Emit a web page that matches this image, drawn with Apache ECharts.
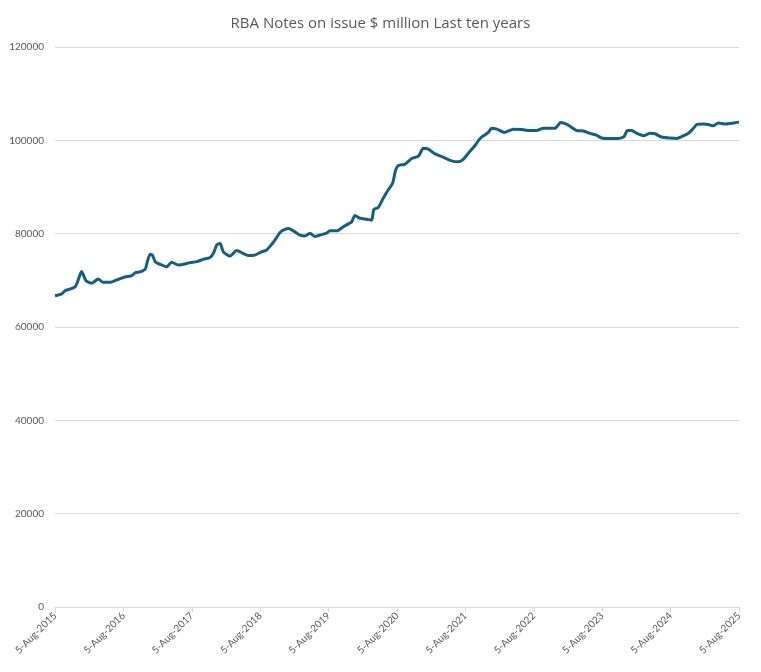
<!DOCTYPE html>
<html>
<head>
<meta charset="utf-8">
<script src="https://cdn.jsdelivr.net/npm/echarts@6/dist/echarts.min.js"></script>
<style>
html,body{margin:0;padding:0;background:#fff;}
#chart{width:761px;height:672px;}
</style>
</head>
<body>
<div id="chart"></div>
<script>
var title = 'RBA Notes on issue $ million Last ten years';
var dates = [
'2015-08-05','2015-09-10','2015-09-28','2015-10-24','2015-11-20','2015-12-02','2015-12-25',
'2016-01-18','2016-02-18','2016-03-23','2016-04-16','2016-05-25','2016-06-30','2016-08-13',
'2016-09-18','2016-10-06','2016-11-01','2016-11-29','2016-12-10','2016-12-25',
'2017-01-06','2017-01-21','2017-02-17','2017-03-23','2017-04-19','2017-05-24','2017-06-29',
'2017-07-26','2017-08-31','2017-10-05','2017-11-10','2017-11-28','2017-12-16',
'2018-01-03','2018-01-20','2018-02-25','2018-04-01','2018-05-05','2018-06-01','2018-07-07',
'2018-08-12','2018-09-08','2018-10-05','2018-11-01','2018-11-20','2018-12-15',
'2019-01-03','2019-01-29','2019-03-05','2019-04-01','2019-04-28','2019-05-24','2019-06-20',
'2019-07-26','2019-08-12','2019-09-17','2019-10-23','2019-11-19','2019-12-06','2019-12-24',
'2020-01-20','2020-02-25','2020-03-22','2020-04-03','2020-04-26','2020-05-23','2020-06-19',
'2020-07-12','2020-07-28','2020-08-12','2020-09-17','2020-10-22','2020-11-27','2020-12-23',
'2021-01-19','2021-02-24','2021-04-08','2021-05-23','2021-06-28','2021-07-21','2021-08-20',
'2021-09-25','2021-10-22','2021-11-18','2021-12-05','2021-12-23',
'2022-01-20','2022-02-28','2022-04-17','2022-06-02','2022-07-14','2022-08-20','2022-09-25',
'2022-11-27','2022-12-26',
'2023-01-29','2023-03-22','2023-04-27','2023-06-02','2023-07-06','2023-08-02','2023-09-17',
'2023-10-30','2023-11-30','2023-12-18',
'2024-01-10','2024-02-06','2024-03-12','2024-04-17','2024-05-14','2024-06-17','2024-08-01',
'2024-09-07','2024-10-03','2024-11-08','2024-12-05','2024-12-23',
'2025-01-27','2025-02-23','2025-03-20','2025-04-16','2025-05-21','2025-07-05','2025-08-05'
];
var notes = [
66700,67100,67800,68100,68600,69500,71900,
69900,69400,70300,69600,69600,70100,70700,
71000,71600,71800,72400,74000,75600,
75400,74000,73400,72900,73900,73300,73500,
73800,74000,74500,74900,75800,77600,
77900,76100,75200,76400,75800,75300,75400,
76100,76500,77700,79200,80300,80900,
81100,80600,79700,79500,80100,79400,79700,
80100,80600,80600,81500,82100,82500,83900,
83300,83100,82900,85200,85600,87600,89400,
90800,93600,94600,94900,96100,96600,98300,
98100,97100,96400,95600,95400,95800,97200,
98900,100400,101200,101700,102600,
102400,101700,102400,102300,102100,102100,102600,
102600,103800,
103400,102100,102000,101500,101100,100500,100400,
100400,100800,102100,
102100,101500,101000,101500,101400,100700,100500,
100400,100800,101500,102600,103400,
103500,103400,103100,103700,103500,103700,103900
];
var yTicks = [0,20000,40000,60000,80000,100000,120000];
var xTickDates = ['2015-08-05','2016-08-05','2017-08-05','2018-08-05','2019-08-05','2020-08-05',
'2021-08-05','2022-08-05','2023-08-05','2024-08-05','2025-08-05'];

var MON = ['Jan','Feb','Mar','Apr','May','Jun','Jul','Aug','Sep','Oct','Nov','Dec'];
var DAY = 86400000;
function ts(s){ return Date.parse(s + 'T00:00:00Z'); }
function fmtDate(v){
  var d = new Date(Math.round(v / DAY) * DAY);
  return d.getUTCDate() + '-' + MON[d.getUTCMonth()] + '-' + d.getUTCFullYear();
}
var seriesData = dates.map(function(d,i){ return [ts(d), notes[i]]; });
var xTickTs = xTickDates.map(ts);

var chart = echarts.init(document.getElementById('chart'), null, {renderer:'canvas'});
chart.setOption({
  animation:false,
  backgroundColor:'#ffffff',
  textStyle:{fontFamily:'Lato, "Open Sans", sans-serif'},
  title:{
    text:title, left:'center', top:11,
    textStyle:{fontSize:15, fontWeight:'normal', color:'#595959', fontFamily:'"Open Sans", Lato, sans-serif'}
  },
  grid:{left:55, right:22, top:47, bottom:65, containLabel:false},
  xAxis:{
    type:'value',
    scale:true,
    min:xTickTs[0], max:xTickTs[xTickTs.length-1],
    axisLine:{show:true, lineStyle:{color:'#d9d9d9', width:1}},
    axisTick:{show:true, customValues:xTickTs, length:5, lineStyle:{color:'#d9d9d9'}},
    axisLabel:{
      customValues:xTickTs, rotate:45, color:'#595959', fontSize:10, margin:7,
      formatter:function(v){ return fmtDate(v); },
      showMinLabel:true, showMaxLabel:true, hideOverlap:false
    },
    splitLine:{show:false}
  },
  yAxis:{
    type:'value', min:yTicks[0], max:yTicks[yTicks.length-1], interval:20000,
    axisLine:{show:false}, axisTick:{show:false},
    axisLabel:{color:'#595959', fontSize:10, margin:11, formatter:function(v){ return String(v); }},
    splitLine:{lineStyle:{color:'#d9d9d9', width:1}}
  },
  series:[{
    type:'line', data:seriesData, showSymbol:false, smooth:0.2,
    lineStyle:{color:'#156082', width:3}, itemStyle:{color:'#156082'}
  }]
});
</script>
</body>
</html>
